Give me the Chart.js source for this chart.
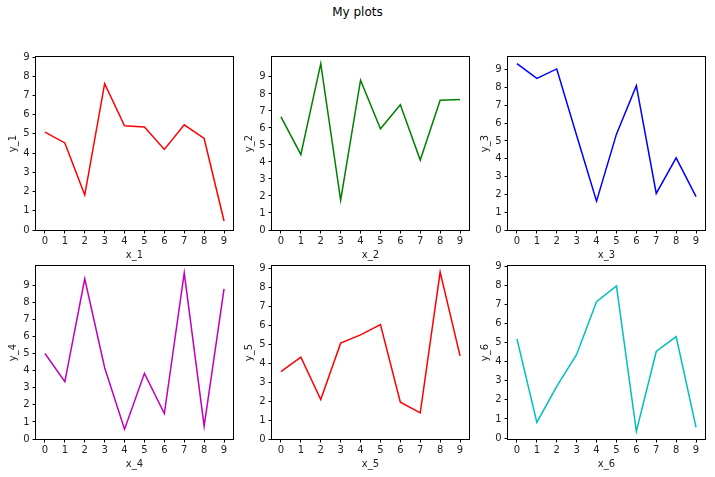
<!DOCTYPE html>
<html>
<head>
<meta charset="utf-8">
<script src="https://cdn.jsdelivr.net/npm/chart.js@4/dist/chart.umd.min.js"></script>
<style>
  body { margin: 0; background: #fff; }
  #fig { position: relative; width: 715px; height: 477px; overflow: hidden; }
  #suptitle { position: absolute; left: 0; width: 715px; top: 5px; text-align: center;
              font: 12px "DejaVu Sans", sans-serif; color: #000; }
  .cell { position: absolute; }
</style>
</head>
<body>
<div id="fig">
  <div id="suptitle">My plots</div>
</div>
<script>
// data
const xValues = [0, 1, 2, 3, 4, 5, 6, 7, 8, 9];
const xTicks = [0, 1, 2, 3, 4, 5, 6, 7, 8, 9];
const yTicks = [0, 1, 2, 3, 4, 5, 6, 7, 8, 9];

const y1 = [5.09, 4.53, 1.82, 7.61, 5.42, 5.36, 4.19, 5.47, 4.76, 0.47];
const y2 = [6.65, 4.44, 9.78, 1.76, 8.81, 5.95, 7.36, 4.11, 7.63, 7.67];
const y3 = [9.34, 8.51, 9.04, 5.30, 1.62, 5.38, 8.10, 2.05, 4.05, 1.87];
const y4 = [5.01, 3.36, 9.39, 4.18, 0.57, 3.85, 1.49, 9.74, 0.75, 8.80];
const y5 = [3.56, 4.33, 2.09, 5.07, 5.51, 6.05, 1.95, 1.38, 8.83, 4.40];
const y6 = [5.19, 0.82, 2.70, 4.37, 7.13, 7.96, 0.35, 4.53, 5.31, 0.56];

const yMins = [0, 0, 0, 0, 0, -0.05];
const yMaxs = [9, 10.17, 9.71, 10.14, 9.15, 9.0];

const series = [y1, y2, y3, y4, y5, y6];
const colors = ['#ff0000', '#008000', '#0000ff', '#bf00bf', '#ff0000', '#00bfbf'];

// layout of the axes boxes
const colLeft = [36, 272, 508];
const rowTop = [57, 266];
const boxW = 197, boxH = 173;
const padL = 36, padT = 10, padR = 8, padB = 36;

// matplotlib-like frame on all four sides
const frame = {
  id: 'frame',
  afterDraw(chart) {
    const a = chart.chartArea, ctx = chart.ctx;
    ctx.save();
    ctx.strokeStyle = '#000';
    ctx.lineWidth = 1;
    ctx.strokeRect(Math.round(a.left) - 0.5, Math.round(a.top) - 0.5,
                   Math.round(a.right - a.left) + 1, Math.round(a.bottom - a.top) + 1);
    ctx.restore();
  }
};

const font = { family: '"DejaVu Sans", sans-serif', size: 10 };

function makePanel(i) {
  const col = i % 3, row = Math.floor(i / 3);
  const div = document.createElement('div');
  div.className = 'cell';
  div.style.left = (colLeft[col] - padL) + 'px';
  div.style.top = (rowTop[row] - padT) + 'px';
  const canvas = document.createElement('canvas');
  canvas.width = boxW + padL + padR;
  canvas.height = boxH + padT + padB;
  div.appendChild(canvas);
  document.getElementById('fig').appendChild(div);

  const n = i + 1;
  new Chart(canvas.getContext('2d'), {
    type: 'line',
    data: {
      datasets: [{
        data: xValues.map((x, k) => ({ x: x, y: series[i][k] })),
        borderColor: colors[i],
        borderWidth: 1.5,
        pointRadius: 0,
        tension: 0,
        fill: false
      }]
    },
    options: {
      responsive: false,
      animation: false,
      events: [],
      layout: { padding: { top: padT, right: padR, left: 0, bottom: 0 } },
      plugins: { legend: { display: false }, tooltip: { enabled: false } },
      scales: {
        x: {
          type: 'linear',
          min: -0.45,
          max: 9.45,
          afterBuildTicks: s => { s.ticks = xTicks.map(v => ({ value: v })); },
          afterFit: s => { s.height = padB; },
          grid: { display: true, drawOnChartArea: false, drawTicks: true, tickLength: 3.5, color: '#000' },
          border: { display: false },
          ticks: { font: font, color: '#222', padding: 2, maxRotation: 0 },
          title: { display: true, text: 'x_' + n, font: font, color: '#222', padding: { top: 0, bottom: 5 } }
        },
        y: {
          type: 'linear',
          min: yMins[i],
          max: yMaxs[i],
          afterBuildTicks: s => { s.ticks = yTicks.map(v => ({ value: v })); },
          afterFit: s => { s.width = padL; },
          grid: { display: true, drawOnChartArea: false, drawTicks: true, tickLength: 3.5, color: '#000' },
          border: { display: false },
          ticks: { font: font, color: '#222', padding: 3 },
          title: { display: true, text: 'y_' + n, font: font, color: '#222', padding: { top: 7, bottom: 0 } }
        }
      }
    },
    plugins: [frame]
  });
}

for (let i = 0; i < 6; i++) makePanel(i);
</script>
</body>
</html>
